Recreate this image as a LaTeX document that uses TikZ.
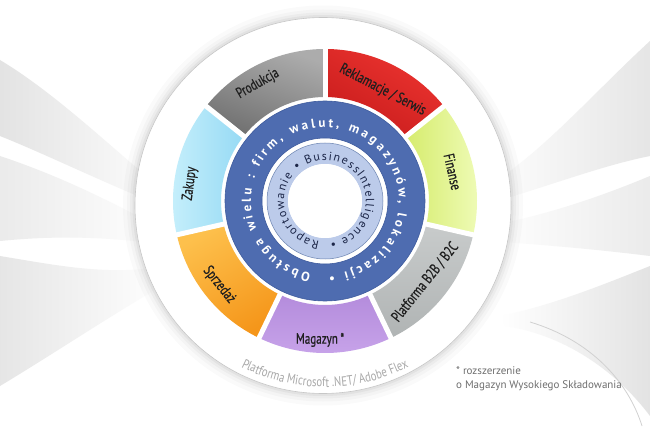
\documentclass[tikz,border=0pt]{standalone}
\usepackage{fontspec}
\setmainfont{PT Sans}
\newfontfamily\narrowfont[FakeStretch=0.8]{PT Sans}
\newfontfamily\labelfont[FakeStretch=0.74, FakeBold=0.6]{PT Sans}
\newfontfamily\ringfont{PT Sans}
\usetikzlibrary{decorations.text}

\definecolor{ringblue}{HTML}{4E6CB0}
\definecolor{ringblueedge}{HTML}{3F5C9E}
\definecolor{lightringA}{HTML}{BCCBEA}
\definecolor{lightringB}{HTML}{7F9BD0}
\definecolor{navytext}{HTML}{1C2648}
\definecolor{platformtext}{HTML}{A8A8A8}
\definecolor{notetext}{HTML}{6E6E6E}

% annular sector between two angles
\newcommand\ringsector[3]{%
  \shade[#3] (#1:152pt) arc[start angle=#1, end angle=#2, radius=152pt]
    -- (#2:104pt) arc[start angle=#2, end angle=#1, radius=104pt] -- cycle;}

\pgfdeclareradialshading{lightring}{\pgfpoint{0bp}{0bp}}{%
  color(0bp)=(lightringA); color(31bp)=(lightringA); color(50bp)=(lightringB); color(60bp)=(lightringB)}

\begin{document}
\begin{tikzpicture}[x=1pt, y=1pt,
  seglabel/.style={font=\labelfont\fontsize{15}{15}\selectfont, text=black!88, inner sep=0pt},
  swoosh/.style={left color=#1, right color=white},
  swooshr/.style={left color=white, right color=#1},
  gap/.style={white, line width=5pt},
]
\useasboundingbox (0,0) rectangle (650,426);
\fill[white] (0,0) rectangle (650,426);

% background swooshes, left
\shade[swoosh=black!11] (0,366) .. controls (60,330) and (120,270) .. (175,226)
  -- (175,215) .. controls (110,240) and (50,270) .. (0,290) -- cycle;
\shade[swoosh=black!8] (0,270) .. controls (60,250) and (110,225) .. (160,198)
  -- (160,182) .. controls (100,190) and (50,190) .. (0,185) -- cycle;
\shade[swoosh=black!10] (0,170) .. controls (60,160) and (110,150) .. (165,160)
  -- (165,142) .. controls (110,110) and (50,70) .. (0,40) -- cycle;
% background swooshes, right
\shade[swooshr=black!10] (480,235) .. controls (540,270) and (590,330) .. (650,385)
  -- (650,270) .. controls (600,260) and (550,240) .. (480,220) -- cycle;
\shade[swooshr=black!8] (490,200) .. controls (540,210) and (590,225) .. (650,250)
  -- (650,170) .. controls (610,175) and (560,180) .. (490,185) -- cycle;
\shade[swooshr=black!11] (500,110) .. controls (550,120) and (600,140) .. (650,160)
  -- (650,10) .. controls (620,50) and (570,90) .. (505,100) -- cycle;
\draw[black!18, line width=0.8pt] (530,104) .. controls (590,86) and (628,45) .. (642,0);

\begin{scope}[shift={(325,225)}]
  % soft halo and white disk
  \foreach \r/\o in {200/0.02, 196/0.025, 193/0.03, 190.5/0.04}
    \fill[black, opacity=\o] (-2,-4.5) circle[radius=\r pt];
  \fill[white] (-2,-4.5) circle[radius=188pt];
  \draw[black!22, line width=0.6pt] (-2,-4.5) circle[radius=188pt];

  % seven module sectors
  \ringsector{90}{38.57}{left color={rgb,255:red,236;green,52;blue,48}, right color={rgb,255:red,200;green,28;blue,28}, shading angle=-30}
  \ringsector{38.57}{-12.86}{left color={rgb,255:red,214;green,236;blue,110}, right color={rgb,255:red,240;green,252;blue,186}}
  \ringsector{-12.86}{-64.29}{top color={rgb,255:red,200;green,203;blue,203}, bottom color={rgb,255:red,176;green,180;blue,180}}
  \ringsector{-64.29}{-115.71}{top color={rgb,255:red,180;green,140;blue,220}, bottom color={rgb,255:red,200;green,164;blue,234}}
  \ringsector{-115.71}{-167.14}{left color={rgb,255:red,253;green,192;blue,76}, right color={rgb,255:red,245;green,150;blue,26}, shading angle=30}
  \ringsector{-167.14}{-218.57}{left color={rgb,255:red,200;green,240;blue,252}, right color={rgb,255:red,150;green,218;blue,244}}
  \ringsector{141.43}{90}{left color={rgb,255:red,172;green,172;blue,172}, right color={rgb,255:red,112;green,112;blue,112}, shading angle=-20}
  \foreach \a in {90, 38.57, -12.86, -64.29, -115.71, -167.14, 141.43}
    \draw[gap] (\a:100pt) -- (\a:158pt);

  % blue ring
  \fill[ringblue, even odd rule] (0,0) circle[radius=100pt] (0,0) circle[radius=63pt];
  \draw[ringblueedge, line width=0.6pt] (0,0) circle[radius=100pt];
  \draw[ringblueedge, line width=0.6pt] (0,0) circle[radius=63pt];

  % light blue ring
  \shade[shading=lightring, even odd rule] (0,0) circle[radius=58pt] (0,0) circle[radius=37pt];
  \draw[lightringB!85!black, line width=0.5pt] (0,0) circle[radius=58pt];
  \fill[white] (0,0) circle[radius=37pt];

  % ring texts
  \path[decorate, decoration={text along path, text align=fit to path,
      text={|\ringfont\bfseries\fontsize{13}{13}\selectfont\color{white}|Obsługa wielu : firm, walut, magazynów, lokalizacji •}}]
    (-101:74pt) arc[start angle=-101, end angle=-447, radius=74pt];
  \path[decorate, decoration={text along path, text align=fit to path,
      text={|\ringfont\fontsize{12}{12}\selectfont\color{navytext}|Raportowanie • BusinessIntelligence •}}]
    (-98:41pt) arc[start angle=-98, end angle=-443, radius=41pt];

  % module labels
  \node[seglabel, rotate=29.8]  (prod) at (119.8:135pt) {Produkcja};
  \node[seglabel, rotate=-27.4] (rekl) at (62.6:125pt) {Reklamacje / Serwis};
  \node[seglabel, rotate=-77.1] (fin)  at (12.9:131pt) {Finanse};
  \node[seglabel, rotate=51.4]  (plat) at (-39:129pt) {Platforma B2B / B2C};
  \node[seglabel]               (mag)  at (-92:139pt) {Magazyn\,*};
  \node[seglabel, rotate=-51.4] (sprz) at (-141.6:135pt) {Sprzedaż};
  \node[seglabel, rotate=82.7]  (zak)  at (172.7:136pt) {Zakupy};

  % platform caption along the disk rim
  \path[decorate, decoration={text along path, text align=center,
      text={|\narrowfont\fontsize{13.5}{13.5}\selectfont\color{platformtext}|Platforma Microsoft .NET/ Adobe Flex}}]
    (-140:186pt) arc[start angle=-140, end angle=-40, radius=186pt];
\end{scope}

% footnote
\node[anchor=north west, align=left, inner sep=0pt, text=notetext,
      font=\fontsize{11}{14}\selectfont] (note) at (456,60)
  {* rozszerzenie\\o Magazyn Wysokiego Składowania};
\end{tikzpicture}
\end{document}
